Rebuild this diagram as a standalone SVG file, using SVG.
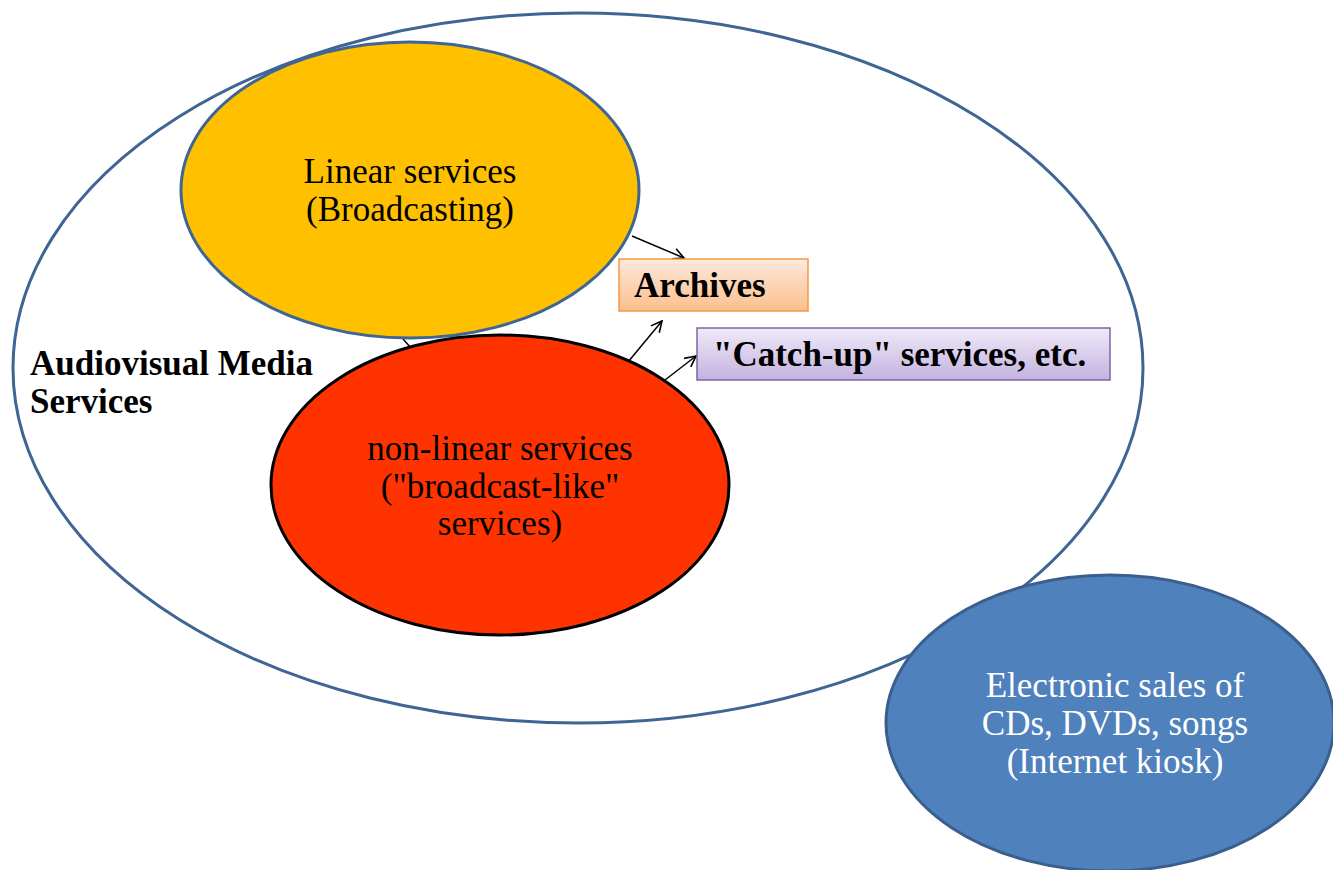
<svg xmlns="http://www.w3.org/2000/svg" width="1333" height="870" viewBox="0 0 1333 870">
<style>
text{font-family:'Liberation Serif','Times New Roman',serif;font-size:35px;}
.lbl{text-anchor:middle;fill:#000;}
.bold{font-weight:bold;fill:#000;}
.wh{fill:#fff;}
.conn{stroke:#000;stroke-width:1.5;fill:none;}
</style>
<defs>
<marker id="arr" viewBox="0 0 12 12" refX="11" refY="6" markerWidth="13" markerHeight="13" markerUnits="userSpaceOnUse" orient="auto">
<path d="M1,1 L11,6 L1,11" fill="none" stroke="#000" stroke-width="1.5"/>
</marker>
<linearGradient id="gArch" x1="0" y1="0" x2="0" y2="1">
<stop offset="0" stop-color="#fde9dc"/>
<stop offset="1" stop-color="#fbbf8c"/>
</linearGradient>
<linearGradient id="gCatch" x1="0" y1="0" x2="0" y2="1">
<stop offset="0" stop-color="#efeaf8"/>
<stop offset="1" stop-color="#c4b2e0"/>
</linearGradient>
</defs>
<rect width="1333" height="870" fill="#fff"/>
<g id="avms">
<ellipse cx="578" cy="368" rx="565" ry="355" fill="#fff" stroke="#3f6594" stroke-width="3"/>
<text class="bold" x="30" y="375">Audiovisual Media</text>
<text class="bold" x="30" y="413">Services</text>
</g>
<g id="connectors">
<line class="conn" x1="403" y1="339" x2="412" y2="349"/>
<line class="conn" x1="632" y1="236" x2="684" y2="258" marker-end="url(#arr)"/>
<line class="conn" x1="628" y1="362" x2="662" y2="321" marker-end="url(#arr)"/>
<line class="conn" x1="665" y1="380" x2="696" y2="356" marker-end="url(#arr)"/>
</g>
<g id="linear">
<ellipse cx="410" cy="190" rx="229" ry="148" fill="#ffc000" stroke="#3f6594" stroke-width="3"/>
<text class="lbl" x="410" y="183">Linear services</text>
<text class="lbl" x="410" y="221">(Broadcasting)</text>
</g>
<g id="nonlinear">
<ellipse cx="500" cy="485" rx="229" ry="150" fill="#ff3300" stroke="#000" stroke-width="3"/>
<text class="lbl" x="500" y="460">non-linear services</text>
<text class="lbl" x="500" y="498">("broadcast-like"</text>
<text class="lbl" x="500" y="535">services)</text>
</g>
<g id="archives">
<rect x="619" y="259" width="189" height="52" fill="url(#gArch)" stroke="#f79646" stroke-width="1.5"/>
<text class="bold" x="634" y="297">Archives</text>
</g>
<g id="catchup">
<rect x="697" y="328" width="413" height="52" fill="url(#gCatch)" stroke="#8064a2" stroke-width="1.5"/>
<text class="bold" x="713" y="366">"Catch-up" services, etc.</text>
</g>
<g id="sales">
<ellipse cx="1110" cy="723" rx="224" ry="148" fill="#4f81bd" stroke="#3a5f8c" stroke-width="3"/>
<text class="lbl wh" x="1115" y="697">Electronic sales of</text>
<text class="lbl wh" x="1115" y="735">CDs, DVDs, songs</text>
<text class="lbl wh" x="1115" y="773">(Internet kiosk)</text>
</g>
</svg>
